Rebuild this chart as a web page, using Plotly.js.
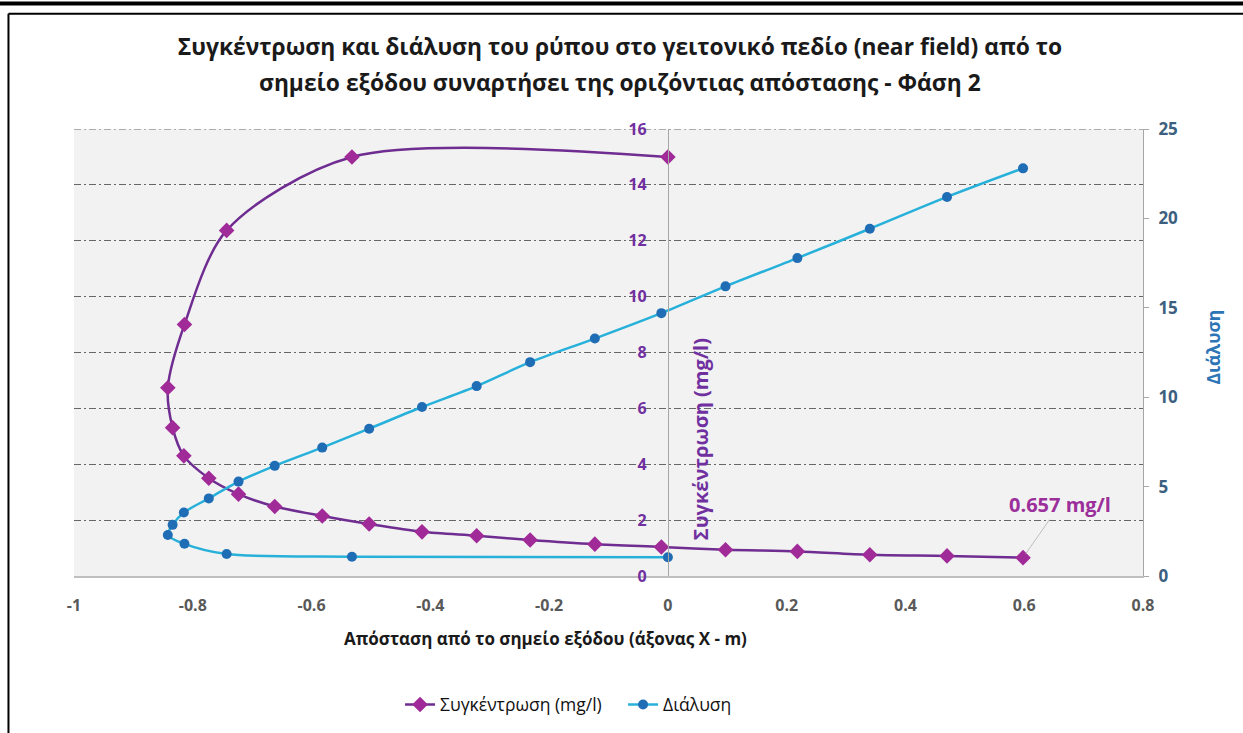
<!DOCTYPE html>
<html>
<head>
<meta charset="utf-8">
<script src="https://cdn.plot.ly/plotly-3.0.1.min.js"></script>
<style>
  html, body { margin: 0; padding: 0; background: #ffffff; }
  #chart { width: 1243px; height: 733px; }
</style>
</head>
<body>
<div id="chart"></div>
<script>
// Horizontal distance from the outlet (m), shared by both series
const distance = [0, -0.532, -0.743, -0.814, -0.842, -0.834, -0.815, -0.773, -0.723, -0.662,
                  -0.582, -0.503, -0.414, -0.322, -0.232, -0.123, -0.011, 0.097, 0.218, 0.340,
                  0.470, 0.598];
// Pollutant concentration (mg/l)
const concentration = [15.0, 15.0, 12.37, 9.0, 6.74, 5.31, 4.30, 3.50, 2.93, 2.49,
                       2.15, 1.86, 1.58, 1.44, 1.29, 1.14, 1.04, 0.94, 0.88, 0.76,
                       0.72, 0.657];
// Dilution
const dilution = [1.05, 1.08, 1.23, 1.80, 2.29, 2.86, 3.55, 4.34, 5.28, 6.16,
                  7.18, 8.24, 9.45, 10.62, 11.96, 13.28, 14.7, 16.2, 17.78, 19.42,
                  21.2, 22.8];

const xTickVals = [-1, -0.8, -0.6, -0.4, -0.2, 0, 0.2, 0.4, 0.6, 0.8];
const xTickText = ['-1', '-0.8', '-0.6', '-0.4', '-0.2', '0', '0.2', '0.4', '0.6', '0.8'];

const seriesNames = ['Συγκέντρωση (mg/l)', 'Διάλυση'];
const titleLines = ['Συγκέντρωση και διάλυση του ρύπου στο γειτονικό πεδίο (near field) από το',
                    'σημείο εξόδου συναρτήσει της οριζόντιας απόστασης - Φάση 2'];
const xTitle = 'Απόσταση από το σημείο εξόδου (άξονας X - m)';
const yTitle = 'Συγκέντρωση (mg/l)';
const y2Title = 'Διάλυση';
const endLabel = '0.657 mg/l';

const FONT = 'Open Sans, Noto Sans, sans-serif';
const GRID_DASH = '7px,3px,2px,3px';
const xMin = -1, xMax = 0.8;
const yMax = 16;
// the concentration axis crosses the horizontal axis at x = 0
const yAxisPos = (0 - xMin) / (xMax - xMin);

const traces = [
  {
    x: distance, y: concentration, name: seriesNames[0],
    type: 'scatter', mode: 'lines+markers',
    line: { color: '#6f2c91', width: 2.5, shape: 'spline', smoothing: 0.85 },
    marker: { symbol: 'diamond', size: 12, color: '#a02b98' },
    xaxis: 'x', yaxis: 'y'
  },
  {
    x: distance, y: dilution, name: seriesNames[1],
    type: 'scatter', mode: 'lines+markers',
    line: { color: '#27b1da', width: 2.5, shape: 'spline', smoothing: 0.85 },
    marker: { symbol: 'circle', size: 10, color: '#1f6db5' },
    xaxis: 'x', yaxis: 'y2'
  }
];

const layout = {
  width: 1243, height: 733,
  margin: { l: 74, r: 100, t: 129, b: 156 },
  paper_bgcolor: '#ffffff',
  plot_bgcolor: '#f2f2f2',
  font: { family: FONT, color: '#404040' },
  showlegend: true,
  title: {
    text: '<b>' + titleLines[0] + '</b>',
    font: { family: FONT, size: 22.8, color: '#1a1a1a' },
    x: 0.4988, xref: 'container', xanchor: 'center',
    y: 0.9359, yref: 'container', yanchor: 'middle'
  },
  xaxis: {
    range: [xMin, xMax],
    tickvals: xTickVals, ticktext: xTickText,
    showgrid: false, zeroline: false,
    showline: true, linecolor: '#bfbfbf', linewidth: 1.5,
    ticks: '', ticklabelstandoff: 14,
    tickfont: { family: FONT, size: 16, color: '#595959', weight: 'bold' }
  },
  yaxis: {
    range: [0, yMax], dtick: 2,
    anchor: 'free', position: yAxisPos, side: 'left',
    showline: true, linecolor: '#a6a6a6', linewidth: 1,
    ticks: '', ticklabelstandoff: 18,
    tickfont: { family: FONT, size: 16, color: '#7030a0', weight: 'bold' },
    showgrid: true, gridcolor: '#666666', gridwidth: 1, griddash: GRID_DASH,
    zeroline: false
  },
  yaxis2: {
    range: [0, 25], dtick: 5,
    overlaying: 'y', side: 'right', anchor: 'x',
    showline: true, linecolor: '#a6a6a6', linewidth: 1,
    ticks: 'outside', ticklen: 5, tickcolor: '#a6a6a6', ticklabelstandoff: 6,
    tickfont: { family: FONT, size: 17, color: '#3d5f80', weight: 'bold' },
    showgrid: false, zeroline: false
  },
  legend: {
    orientation: 'h', x: 0.305, xanchor: 'left', y: -0.285, yanchor: 'middle',
    entrywidth: 178, entrywidthmode: 'pixels',
    font: { family: FONT, size: 17.5, color: '#111111' },
    bgcolor: 'rgba(0,0,0,0)'
  },
  annotations: [
    {
      text: '<b>' + titleLines[1] + '</b>', xref: 'paper', yref: 'paper',
      x: 0.5108, y: 1.1049, xanchor: 'center', yanchor: 'middle', showarrow: false,
      font: { family: FONT, size: 22.8, color: '#1a1a1a' }
    },
    {
      text: '<b>' + xTitle + '</b>', xref: 'paper', yref: 'paper',
      x: 0.4415, y: -0.1406, xanchor: 'center', yanchor: 'middle', showarrow: false,
      font: { family: FONT, size: 17, color: '#1a1a1a' }
    },
    {
      text: '<b>' + yTitle + '</b>', xref: 'paper', yref: 'paper',
      x: 0.5856, y: 0.306, xanchor: 'center', yanchor: 'middle', textangle: -90, showarrow: false,
      font: { family: FONT, size: 20, color: '#7030a0' }
    },
    {
      text: '<b>' + y2Title + '</b>', xref: 'paper', yref: 'paper',
      x: 1.0655, y: 0.511, xanchor: 'center', yanchor: 'middle', textangle: -90, showarrow: false,
      font: { family: FONT, size: 17.5, color: '#2e75b6' }
    },
    {
      text: '<b>' + endLabel + '</b>', xref: 'x', yref: 'y',
      x: distance[distance.length - 1], y: concentration[concentration.length - 1],
      showarrow: true, arrowhead: 0, arrowwidth: 1, arrowcolor: '#bfbfbf',
      ax: 37, ay: -53, standoff: 5,
      font: { family: FONT, size: 20, color: '#9b2f9b' }
    }
  ],
  shapes: [
    // top grid line at the end of the concentration range
    { type: 'line', xref: 'paper', yref: 'y', x0: 0, x1: 1, y0: yMax, y1: yMax, layer: 'below',
      line: { color: '#666666', width: 1, dash: GRID_DASH } },
    // heavy rule across the top of the page
    { type: 'line', xref: 'paper', yref: 'paper', x0: -0.08, x1: 1.1, y0: 1.281, y1: 1.281,
      line: { color: '#000000', width: 4 } },
    // chart frame: top and left edges
    { type: 'line', xref: 'paper', yref: 'paper', x0: -0.0613, x1: 1.1, y0: 1.258, y1: 1.258,
      line: { color: '#000000', width: 2 } },
    { type: 'line', xref: 'paper', yref: 'paper', x0: -0.0613, x1: -0.0613, y0: 1.258, y1: -0.36,
      line: { color: '#000000', width: 2 } }
  ]
};

Plotly.newPlot('chart', traces, layout, { displayModeBar: false, responsive: false });
</script>
</body>
</html>
